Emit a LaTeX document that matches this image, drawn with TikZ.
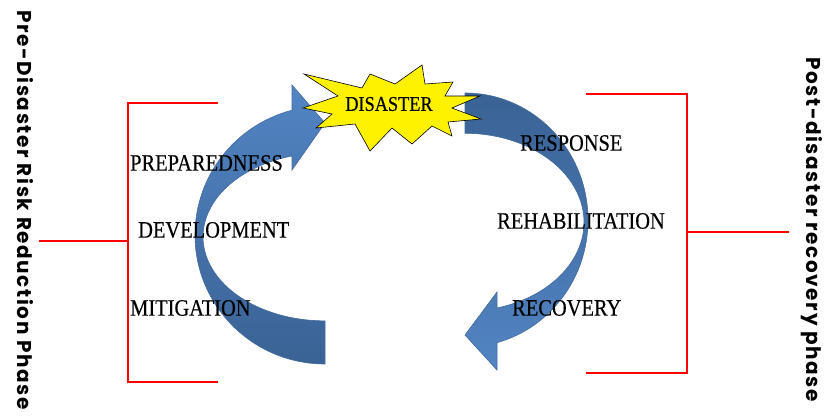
\documentclass[tikz,border=0pt]{standalone}
\usepackage{fontspec}
\setmainfont{Liberation Serif}
\newfontfamily\labelfont{Liberation Serif}[FakeStretch=0.87, FakeBold=0.4]
\newfontfamily\phasefont{Poppins}[LetterSpace=8]
\usepackage{tikz}

\definecolor{arrowlight}{RGB}{82,133,196}
\definecolor{arrowdark}{RGB}{58,98,148}
\definecolor{arrowedge}{RGB}{66,106,158}

\begin{document}
\begin{tikzpicture}[x=1pt, y=1pt,
    stage/.style={font=\labelfont\fontsize{23.5}{26}\selectfont, inner sep=0pt, anchor=west},
    phase/.style={font=\phasefont\bfseries\fontsize{20}{24}\selectfont, rotate=-90, anchor=west, inner sep=0pt},
    bracket/.style={red, line width=2.5pt},
    cyclearrow/.style={draw=arrowedge, line width=0.6pt}]
    \useasboundingbox (0,0) rectangle (835,416);

    % Curved arrows
    \draw[cyclearrow, top color=arrowlight, bottom color=arrowdark]
        (325,52) arc[start angle=270, end angle=104.7, x radius=130, y radius=129]
        -- (292,331) -- (325,293) -- (292,246) -- (292,260)
        arc[start angle=105.7, end angle=270, x radius=122, y radius=84] -- cycle;
    \draw[cyclearrow, top color=arrowdark, bottom color=arrowlight]
        (465,323) arc[start angle=90, end angle=-74.9, x radius=123, y radius=127]
        -- (497,46) -- (465,81) -- (497,124) -- (497,108)
        arc[start angle=-74.4, end angle=90, x radius=119, y radius=89] -- cycle;

    % Disaster star
    \draw[fill=yellow, line width=0.6pt, line join=miter]
        (304,342) -- (362,328) -- (370,342) -- (395,332) -- (422,351)
        -- (425,332) -- (453,334) -- (445,320) -- (480,320) -- (452,308)
        -- (481,297) -- (448,294) -- (452,280) -- (432,290) -- (412,272)
        -- (392,288) -- (370,265) -- (355,292) -- (316,288) -- (332,302)
        -- (303,308) -- (338,320) -- cycle;
    \node[font=\labelfont\fontsize{21}{24}\selectfont, inner sep=0pt] (disaster) at (389,312) {DISASTER};

    % Stages
    \node[stage] (preparedness) at (130,253) {PREPAREDNESS};
    \node[stage] (development) at (138,186) {DEVELOPMENT};
    \node[stage] (mitigation) at (130,108) {MITIGATION};
    \node[stage] (response) at (520,273) {RESPONSE};
    \node[stage] (rehabilitation) at (497,195) {REHABILITATION};
    \node[stage] (recovery) at (512,108) {RECOVERY};

    % Phases
    \node[phase] (prephase) at (25,406) {Pre-Disaster Risk Reduction Phase};
    \node[phase] (postphase) at (812,359) {Post-disaster recovery phase};

    % Brackets
    \coordinate (pretop) at (218,313);
    \coordinate (prebottom) at (218,34);
    \coordinate (prespine) at (128,313);
    \coordinate (prestub) at (39,175);
    \draw[bracket] (pretop) -- (prespine) |- (prebottom);
    \draw[bracket] (prestub) -- (prestub -| prespine);

    \coordinate (posttop) at (586,322);
    \coordinate (postbottom) at (586,43);
    \coordinate (postspine) at (687,322);
    \coordinate (poststub) at (789,184);
    \draw[bracket] (posttop) -- (postspine) |- (postbottom);
    \draw[bracket] (poststub) -- (poststub -| postspine);
\end{tikzpicture}
\end{document}
